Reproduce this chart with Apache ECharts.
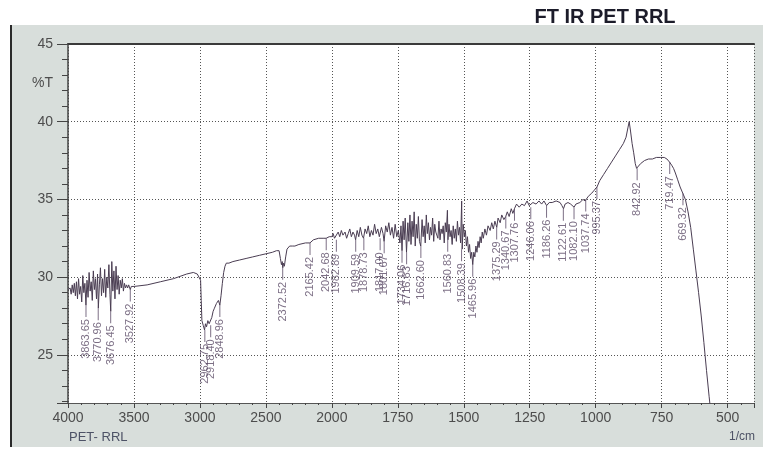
<!DOCTYPE html>
<html>
<head>
<meta charset="utf-8">
<script src="https://cdn.jsdelivr.net/npm/echarts@6/dist/echarts.min.js"></script>
<style>html,body{margin:0;padding:0;background:#fff;}#c{width:763px;height:450px;}</style>
</head>
<body>
<div id="c"></div>
<script>
// ---- data ----
const tickLabels = ['4000','3500','3000','2500','2000','1750','1500','1250','1000','750','500'];
const yTicks = [25, 30, 35, 40, 45];

const specWn = [4000,3992,3984,3976,3968,3960,3952,3944,3936,3928,3920,3912,3904,3896,3888,3880,3872,3864,3856,3848,3840,3832,3824,3816,3808,3800,3792,3784,3776,3770,3762,3754,3746,3738,3730,3722,3714,3706,3698,3690,3682,3676,3668,3660,3652,3644,3636,3628,3620,3612,3604,3596,3588,3580,3572,3564,3556,3548,3540,3528,3520,3500,
3400,3300,3200,3100,3050,3020,3005,2995,2990,2985,2975,2965,2958,2950,2940,2930,2918,2910,2900,2890,2875,2860,2849,2840,2830,2820,2810,2800,2780,2750,2700,2650,2600,2550,2500,2450,2420,2400,2390,2382,2376,2372,2366,2360,2350,2340,2320,2300,2280,2250,2200,2166,2140,2100,2060,2043,2020,2000,
1995,1990,1983,1976,1970,1964,1958,1950,1944,1938,1932,1926,1920,1914,1910,1904,1898,1892,1886,1880,1874,1868,1862,1856,1850,1844,1838,1832,1826,1820,1817,1812,1806,1802,1796,1790,1784,1778,1772,1766,1760,1754,1748,1742,1738,1734,1730,1726,1722,1717,1712,1708,1704,1700,1696,1692,1688,1684,1680,1676,1672,1668,1663,1658,1654,1650,1646,1642,1638,1634,1630,1626,1622,1618,1614,1610,1606,1602,1598,1594,1590,1586,1582,1578,1574,1570,1566,1562,1560,1556,1552,1548,1544,1540,1536,1532,1528,1524,1520,1516,1512,1508,1506,1502,1498,1494,1490,1486,1482,1478,1474,1470,1466,1462,1458,1454,1450,1446,1442,1438,1434,1430,1426,1420,1414,1408,1400,1394,1388,1382,1375,1370,1362,1356,1348,1341,1335,1328,1320,1314,1308,1300,1290,1280,1270,1260,1252,1246,1238,1226,1215,1205,1196,1186,1176,1165,1150,1135,1128,1122,1116,1105,1095,1088,1082,1075,1060,1048,1040,1037,1028,1015,1005,995,985,970,955,940,925,910,895,885,878,873,868,862,856,850,845,840,830,815,800,785,770,755,740,730,720,712,705,698,690,680,670,660,650,640,630,620,610,600,590,580,570,565];

const specT = [29.2,29.1,29.3,28.9,29.5,29.0,29.6,28.8,29.7,28.6,29.9,28.9,29.4,28.4,30.1,29.0,29.6,28.2,29.8,28.7,30.3,29.1,29.7,28.5,30.4,29.2,29.9,28.6,30.2,28.0,29.5,30.6,28.8,29.9,29.0,30.5,28.7,30.0,29.3,30.8,28.9,27.8,31.0,29.1,30.4,28.6,30.7,29.2,30.1,28.9,29.8,29.3,29.9,29.1,29.6,29.3,29.5,29.3,29.5,29.2,29.4,29.4,
29.5,29.7,29.9,30.2,30.3,30.2,30.1,29.8,28.5,27.2,26.9,26.6,27.0,26.8,27.2,27.0,26.9,27.4,27.8,28.0,28.3,28.5,28.2,28.8,29.6,30.3,30.7,30.9,30.9,31.0,31.1,31.2,31.3,31.4,31.5,31.6,31.7,31.7,31.2,30.8,31.0,30.6,30.9,30.7,31.3,31.8,32.0,32.0,32.0,32.1,32.2,32.2,32.4,32.5,32.5,32.5,32.6,32.6,
32.8,32.5,32.4,32.9,32.6,33.0,32.7,32.9,32.5,32.8,33.1,32.6,32.9,32.7,32.4,33.0,32.6,33.2,32.7,32.5,33.1,32.8,33.3,32.6,33.0,32.7,33.4,32.8,33.1,32.6,32.5,33.2,32.8,32.3,33.3,32.9,33.5,32.7,33.2,32.5,33.4,32.6,33.0,32.2,33.3,31.7,33.6,32.4,33.8,31.6,33.5,32.3,34.0,32.1,33.6,32.6,34.2,32.0,33.4,32.5,33.9,32.3,32.0,33.7,32.6,33.3,32.2,34.0,32.8,33.5,32.4,33.2,32.7,33.8,32.3,33.4,32.9,33.0,32.5,33.6,32.4,33.1,32.8,33.3,32.2,33.5,32.9,34.3,32.4,33.4,32.6,33.0,32.1,33.3,32.5,33.1,32.3,33.6,32.7,33.2,32.2,34.9,31.8,33.4,32.6,33.0,32.0,32.6,31.6,32.1,31.2,31.6,30.8,31.6,31.3,32.0,31.6,32.3,31.9,32.6,32.2,32.9,32.5,33.1,32.7,33.3,33.0,33.5,33.1,33.6,33.2,33.8,33.5,34.0,33.7,33.9,34.2,33.9,34.4,34.1,34.4,34.7,34.5,34.7,34.6,34.9,34.6,34.5,34.8,34.7,34.9,34.7,34.9,34.6,34.8,34.8,34.9,34.8,34.6,34.4,34.7,34.8,34.7,34.6,34.5,34.7,34.8,35.0,34.9,35.0,35.2,35.4,35.6,35.8,36.2,36.6,37.0,37.4,37.8,38.2,38.6,39.0,39.6,40.0,39.4,38.6,38.0,37.3,37.0,37.1,37.3,37.5,37.6,37.6,37.7,37.7,37.7,37.6,37.4,37.2,37.0,36.7,36.3,35.8,35.4,35.0,34.2,33.2,31.8,30.4,29.0,27.5,25.8,24.0,22.3,21.5];

const peakWn = [3863.65,3770.96,3676.45,3527.92,2962.75,2918.40,2848.96,2372.52,2165.42,2042.68,1982.89,1909.59,1878.73,1817.00,1801.67,1734.06,1716.63,1662.60,1560.83,1508.39,1465.96,1375.29,1340.67,1307.76,1246.06,1186.26,1122.61,1082.10,1037.74,995.37,842.92,719.47,669.32];
const peakT = [28.2,28.0,27.8,29.2,26.6,26.9,28.2,30.6,32.2,32.5,32.4,32.4,32.5,32.5,32.3,31.7,31.6,32.0,32.4,31.8,30.8,33.2,33.9,34.4,34.5,34.6,34.4,34.5,35.0,35.8,37.0,37.4,35.4];

// piecewise wavenumber scale of the instrument plot (500/div above 2000, 250/div below)
function toPos(wn){ return wn >= 2000 ? (4000 - wn) / 500 : 4 + (2000 - wn) / 250; }

const spectrum = specWn.map((w, i) => [toPos(w), specT[i]]);
const peaks = peakWn.map((w, i) => [toPos(w), peakT[i]]);

const chart = echarts.init(document.getElementById('c'), null, {renderer: 'canvas'});
const FONT = "'Liberation Sans', Arial, sans-serif";
const lineCol = '#4a3d52';
const labCol = '#5b4b66';

chart.setOption({
  animation: false,
  backgroundColor: '#ffffff',
  grid: {left: 68, right: 9, top: 44, bottom: 47, show: true, backgroundColor: '#ffffff', borderWidth: 0},
  graphic: [
    {type: 'rect', z: -10, shape: {x: 10, y: 25, width: 753, height: 422}, style: {fill: '#d8dedb'}},
    {type: 'line', z: -9, shape: {x1: 11, y1: 25, x2: 11, y2: 447}, style: {stroke: '#2a2a2a', lineWidth: 2}},
    {type: 'text', x: 605, y: 17, style: {text: 'FT IR PET RRL', font: "bold 20px 'Liberation Sans', Arial, sans-serif", fill: '#1c1c2a', align: 'center', verticalAlign: 'middle'}},
    {type: 'text', x: 53, y: 83, style: {text: '%T', font: "14px 'Liberation Sans', Arial, sans-serif", fill: '#4d4d4d', align: 'right', verticalAlign: 'middle'}},
    {type: 'text', x: 69, y: 437, style: {text: 'PET- RRL', font: "13px 'Liberation Sans', Arial, sans-serif", fill: '#4d5266', align: 'left', verticalAlign: 'middle'}},
    {type: 'text', x: 755, y: 437, style: {text: '1/cm', font: "12px 'Liberation Sans', Arial, sans-serif", fill: '#4d5266', align: 'right', verticalAlign: 'middle'}}
  ],
  xAxis: [{
    type: 'value', min: 0, max: 10.4, interval: 1,
    axisLine: {show: true, lineStyle: {color: '#555', width: 1}},
    axisTick: {show: true, inside: false, length: 5, lineStyle: {color: '#444'}},
    minorTick: {show: true, splitNumber: 5, length: 2, lineStyle: {color: '#444'}},
    axisLabel: {margin: 8, color: '#4d4d4d', fontSize: 14, fontFamily: FONT,
      formatter: v => { const r = Math.round(v); return Math.abs(v - r) < 1e-6 && tickLabels[r] ? tickLabels[r] : ''; }},
    splitLine: {show: true, lineStyle: {color: '#555', type: [1, 2], width: 1}}
  }, {
    type: 'value', position: 'top', min: 0, max: 10.4,
    axisLine: {show: true, onZero: false, lineStyle: {color: '#3a3a3a', width: 2}},
    axisTick: {show: false}, axisLabel: {show: false}, splitLine: {show: false}
  }],
  yAxis: {
    type: 'value', min: 21.9, max: 45, splitNumber: 5,
    axisLine: {show: true, lineStyle: {color: '#444', width: 1.5}},
    axisTick: {show: true, length: 11, lineStyle: {color: '#444'}},
    minorTick: {show: true, splitNumber: 5, length: 6, lineStyle: {color: '#444'}},
    axisLabel: {margin: 15, color: '#4d4d4d', fontSize: 14, fontFamily: FONT,
      formatter: v => yTicks.indexOf(Math.round(v * 10) / 10) >= 0 ? String(Math.round(v)) : ''},
    splitLine: {show: true, lineStyle: {color: '#555', type: [1, 2], width: 1}}
  },
  series: [{
    type: 'line', data: spectrum, showSymbol: false, symbol: 'none', z: 3,
    lineStyle: {color: lineCol, width: 1}, emphasis: {disabled: true}
  }, {
    type: 'scatter', data: peaks, z: 4,
    symbol: 'rect', symbolSize: [1, 12], symbolOffset: [0, 6],
    itemStyle: {color: labCol}, emphasis: {disabled: true},
    label: {show: true, position: 'bottom', distance: 2, rotate: 90, align: 'right', verticalAlign: 'middle',
      fontSize: 11, fontFamily: FONT, color: labCol,
      formatter: p => peakWn[p.dataIndex].toFixed(2)}
  }]
});
</script>
</body>
</html>
